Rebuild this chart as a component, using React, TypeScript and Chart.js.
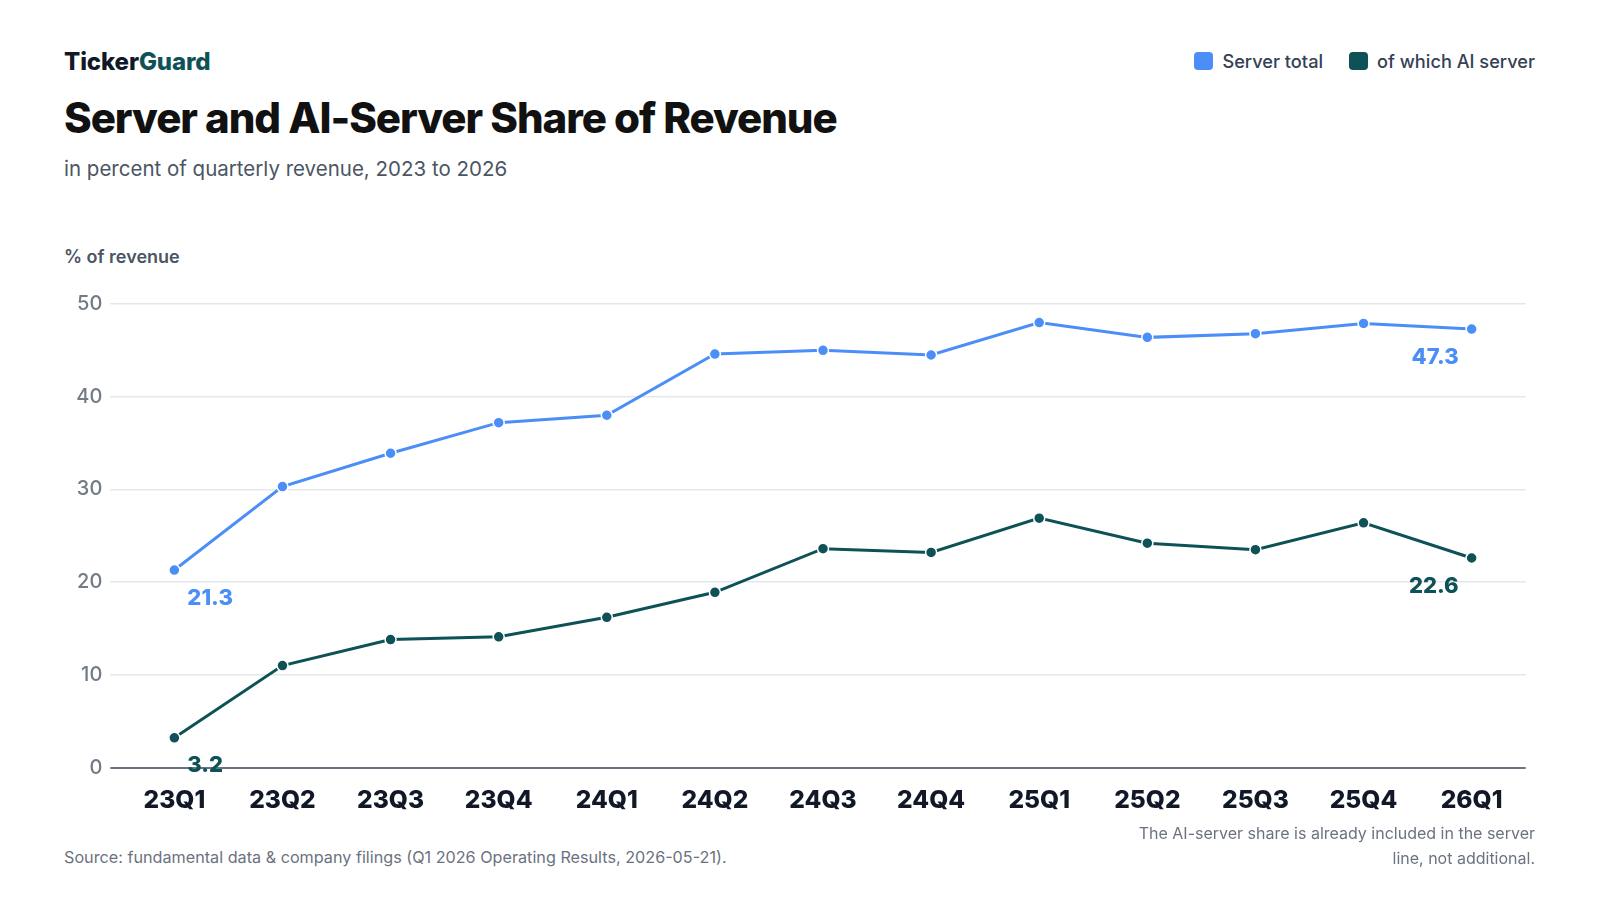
import React, { useEffect, useRef } from "react";
import { Chart, registerables } from "chart.js";

Chart.register(...registerables);

const categories = ["23Q1", "23Q2", "23Q3", "23Q4", "24Q1", "24Q2", "24Q3", "24Q4", "25Q1", "25Q2", "25Q3", "25Q4", "26Q1"];
const serverTotal = [21.3, 30.3, 33.9, 37.2, 38.0, 44.6, 45.0, 44.5, 48.0, 46.4, 46.8, 47.9, 47.3];
const aiServer = [3.2, 11.0, 13.8, 14.1, 16.2, 18.9, 23.6, 23.2, 26.9, 24.2, 23.5, 26.4, 22.6];
const yTicks = [0, 10, 20, 30, 40, 50];

const BLUE = "#4c8ef7";
const TEAL = "#0e5257";
const FONT = "Inter, 'Noto Sans', sans-serif";

const endLabels = {
  id: "endLabels",
  afterDatasetsDraw(chart: any) {
    const ctx = chart.ctx;
    ctx.save();
    ctx.font = `800 22px ${FONT}`;
    ctx.textBaseline = "middle";
    chart.data.datasets.forEach((ds: any, di: number) => {
      const meta = chart.getDatasetMeta(di);
      const n = ds.data.length;
      const pts = [
        { i: 0, align: "left", dx: 13 },
        { i: n - 1, align: "right", dx: -13 },
      ];
      ctx.fillStyle = ds.borderColor;
      pts.forEach((p) => {
        const el = meta.data[p.i];
        ctx.textAlign = p.align;
        ctx.fillText(String(ds.data[p.i].toFixed(1)), el.x + p.dx, el.y + 28);
      });
    });
    ctx.restore();
  },
};

function LineChart() {
  const ref = useRef<HTMLCanvasElement>(null);
  useEffect(() => {
    if (!ref.current) return;
    const chart = new Chart(ref.current, {
      type: "line",
      data: {
        labels: categories,
        datasets: [
          {
            label: "Server total",
            data: serverTotal,
            borderColor: BLUE,
            backgroundColor: BLUE,
            borderWidth: 3,
            pointRadius: 5.5,
            pointBorderColor: "#ffffff",
            pointBorderWidth: 1.5,
            pointBackgroundColor: BLUE,
            tension: 0,
          },
          {
            label: "of which AI server",
            data: aiServer,
            borderColor: TEAL,
            backgroundColor: TEAL,
            borderWidth: 3,
            pointRadius: 5.5,
            pointBorderColor: "#ffffff",
            pointBorderWidth: 1.5,
            pointBackgroundColor: TEAL,
            tension: 0,
          },
        ],
      },
      options: {
        animation: false,
        responsive: false,
        maintainAspectRatio: false,
        layout: { padding: { top: 24, right: 74.3, bottom: 0, left: 0 } },
        plugins: { legend: { display: false }, tooltip: { enabled: false } },
        scales: {
          x: {
            offset: true,
            grid: { display: false, drawTicks: false },
            border: { display: false },
            ticks: {
              padding: 18,
              color: "#111827",
              font: { family: FONT, size: 24.5, weight: 800 },
            },
            afterFit(scale: any) {
              scale.height = 72.5;
            },
          },
          y: {
            min: 0,
            max: 50,
            afterBuildTicks(scale: any) {
              scale.ticks = yTicks.map((v) => ({ value: v }));
            },
            grid: {
              color: (c: any) => (c.tick && c.tick.value === 0 ? "#6b7280" : "#e5e7eb"),
              lineWidth: (c: any) => (c.tick && c.tick.value === 0 ? 2 : 1.5),
              tickLength: 10,
              drawTicks: true,
            },
            border: { display: false },
            ticks: {
              padding: 8,
              color: "#737b87",
              font: { family: FONT, size: 20, weight: 500 },
            },
            afterFit(scale: any) {
              scale.width = 120.3;
            },
          },
        },
      },
      plugins: [endLabels],
    } as any);
    return () => chart.destroy();
  }, []);
  return <canvas ref={ref} width={1600} height={560} style={{ position: "absolute", left: 0, top: 280, width: 1600, height: 560 }} />;
}

export default function App() {
  useEffect(() => {
    document.body.style.margin = "0";
  }, []);
  const base: React.CSSProperties = { position: "absolute", whiteSpace: "nowrap", fontFamily: FONT };
  return (
    <div style={{ position: "relative", width: 1600, height: 900, background: "#ffffff", overflow: "hidden", fontFamily: FONT }}>
      <div style={{ ...base, left: 64, top: 47, fontSize: 24, fontWeight: 800, color: "#111827", letterSpacing: -0.1, lineHeight: "30px" }}>
        Ticker<span style={{ color: TEAL }}>Guard</span>
      </div>
      <div style={{ ...base, left: 64, top: 92, fontSize: 42, fontWeight: 800, color: "#111111", letterSpacing: -1.05, lineHeight: "52px" }}>
        Server and AI-Server Share of Revenue
      </div>
      <div style={{ ...base, left: 64, top: 156, fontSize: 20.5, fontWeight: 400, color: "#4b5563", lineHeight: "26px" }}>
        in percent of quarterly revenue, 2023 to 2026
      </div>
      <div style={{ ...base, left: 64, top: 246, fontSize: 18, fontWeight: 600, color: "#4b5563", lineHeight: "22px" }}>
        % of revenue
      </div>
      <div style={{ ...base, right: 65, top: 49, display: "flex", alignItems: "center", fontSize: 18.2, fontWeight: 500, color: "#334155", lineHeight: "24px" }}>
        <span style={{ display: "inline-block", width: 18.5, height: 18.5, borderRadius: 4, background: BLUE, marginRight: 9.5 }} />
        <span style={{ marginRight: 26 }}>Server total</span>
        <span style={{ display: "inline-block", width: 18.5, height: 18.5, borderRadius: 4, background: TEAL, marginRight: 9.5 }} />
        <span>of which AI server</span>
      </div>
      <LineChart />
      <div style={{ ...base, left: 64, top: 846, fontSize: 16.2, fontWeight: 400, color: "#6b7280", lineHeight: "22px" }}>
        Source: fundamental data &amp; company filings (Q1 2026 Operating Results, 2026-05-21).
      </div>
      <div style={{ ...base, right: 65, top: 821, fontSize: 16, fontWeight: 400, color: "#6b7280", lineHeight: "24.5px", textAlign: "right" }}>
        The AI-server share is already included in the server
        <br />
        line, not additional.
      </div>
    </div>
  );
}
